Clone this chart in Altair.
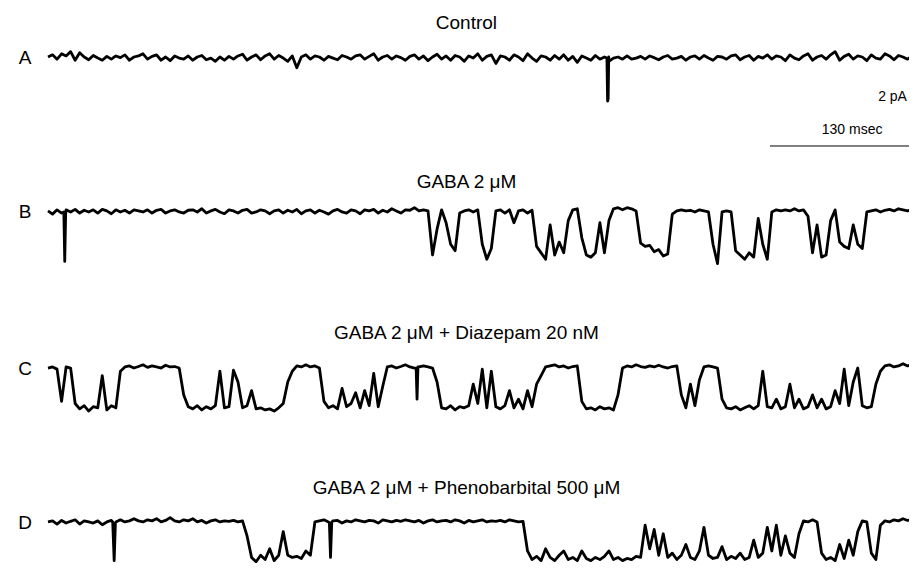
import altair as alt
import pandas as pd

# ---------------- data ----------------
SAMPLE_MS = 4.0

trace_names = ["A", "B", "C", "D"]
panel_titles = ["Control", "GABA 2 μM", "GABA 2 μM + Diazepam 20 nM",
                "GABA 2 μM + Phenobarbital 500 μM"]

# current (pA), one value every 4 ms; openings are downward
trace_A = [
    0.05, 0.15, -0.05, 0.2, 0.1, 0.3, -0.1, 0.25, 0.05, -0.08,
    0.12, 0.0, -0.1, 0.08, -0.05, 0.1, 0.02, 0.15, -0.1, 0.05,
    0.1, 0.2, -0.05, 0.08, 0.15, -0.1, 0.05, -0.12, 0.1, 0.0,
    -0.05, 0.1, -0.1, 0.05, 0.12, -0.08, 0.0, -0.15, 0.05, -0.1,
    0.08, -0.05, 0.1, 0.18, -0.1, 0.05, 0.15, -0.08, 0.1, 0.2,
    -0.05, 0.12, 0.0, -0.15, 0.1, -0.45, 0.05, 0.15, -0.05, 0.1,
    0.05, -0.1, 0.08, 0.0, -0.08, 0.12, 0.05, -0.05, 0.1, 0.15,
    -0.05, 0.08, 0.2, -0.1, 0.05, 0.12, -0.05, 0.1, 0.02, -0.1,
    0.08, 0.15, -0.05, 0.1, -0.12, 0.05, 0.18, -0.05, 0.1, -0.1,
    0.12, 0.05, -0.15, 0.1, 0.0, 0.2, -0.1, 0.08, 0.15, -0.25,
    0.1, 0.05, -0.1, 0.15, 0.05, -0.12, 0.2, 0.0, -0.15, 0.1,
    0.05, -0.1, 0.12, -0.05, 0.15, -0.1, 0.08, -0.2, 0.1, 0.0,
    -0.1, 0.12, -0.05, 0.05, -0.15, 0.0, 0.05, -0.05, 0.1, -0.05,
    0.0, 0.08, -0.05, 0.1, 0.02, -0.08, 0.05, 0.12, -0.05, 0.0,
    0.08, -0.1, 0.05, 0.1, -0.05, 0.12, 0.0, -0.1, 0.08, 0.05,
    -0.05, 0.1, 0.15, -0.08, 0.05, 0.12, -0.1, 0.08, 0.0, 0.15,
    -0.05, 0.1, 0.05, -0.12, 0.15, 0.0, -0.08, 0.1, 0.2, -0.1,
    0.05, 0.12, -0.05, 0.15, 0.3, -0.1, 0.08, 0.18, -0.05, 0.1,
    0.05, -0.12, 0.15, 0.0, -0.05, 0.2, 0.1, -0.08, 0.12, 0.05,
    -0.05, 0.1, 0.05, 0.0,
]
trace_B = [
    0.05, -0.1, 0.1, -0.05, 0.1, 0.0, 0.12, -0.05, 0.08, 0.0,
    0.1, -0.05, 0.12, 0.05, -0.08, 0.1, 0.0, 0.08, -0.05, 0.1,
    0.05, 0.0, 0.1, -0.05, 0.08, 0.12, -0.05, 0.05, 0.1, 0.0,
    -0.05, 0.08, 0.1, 0.0, 0.15, -0.05, 0.05, 0.12, 0.0, -0.08,
    0.1, 0.05, -0.05, 0.08, 0.12, -0.05, 0.0, 0.1, 0.05, -0.08,
    0.05, 0.1, -0.05, 0.08, 0.0, 0.12, -0.08, 0.05, 0.1, -0.05,
    0.08, 0.0, -0.1, 0.05, 0.12, 0.0, -0.05, 0.1, 0.05, -0.08,
    0.1, 0.05, 0.12, -0.05, 0.08, 0.0, 0.15, 0.05, -0.05, 0.1,
    0.08, 0.2, 0.05, 0.1, 0.05, -2.0, -0.8, 0.1, -0.5, -1.5,
    -1.8, -0.05, 0.05, 0.1, 0.0, 0.1, -1.5, -2.2, -1.7, 0.05,
    0.1, -0.05, 0.1, -0.5, 0.05, 0.1, -0.05, 0.08, -1.6, -1.9,
    -2.2, -0.6, -2.0, -1.4, -1.9, -0.4, 0.1, 0.15, -1.2, -2.0,
    -2.1, -1.9, -0.5, -1.9, -0.4, 0.15, 0.2, 0.1, 0.2, 0.15,
    0.05, -1.45, -1.6, -1.55, -1.85, -1.75, -2.05, -1.95, -0.1, 0.05,
    0.1, 0.05, 0.08, 0.0, 0.1, 0.05, 0.0, -1.5, -2.4, 0.0,
    0.05, 0.0, -1.8, -2.0, -2.2, -1.9, -2.1, -0.3, -1.5, -2.2,
    0.0, 0.1, 0.05, 0.1, 0.05, 0.15, 0.05, 0.1, -0.2, -1.9,
    -0.6, -2.1, -2.0, -0.4, 0.1, -1.4, -1.6, -1.7, -0.6, -1.5,
    -1.7, 0.0, 0.05, 0.1, 0.0, 0.08, 0.12, 0.05, 0.15, 0.1,
    0.05, 0.12, 0.18, 0.1,
]
trace_C = [
    0.05, 0.1, 0.0, -1.5, 0.1, 0.05, -1.6, -1.85, -1.7, -1.95,
    -1.75, -1.8, -0.3, -1.9, -1.7, -1.8, -0.1, 0.1, 0.15, 0.05,
    0.12, 0.2, 0.08, 0.15, 0.1, 0.05, 0.18, 0.1, 0.12, 0.05,
    -1.2, -1.75, -1.85, -1.7, -1.9, -1.75, -1.85, -1.7, -0.1, -1.8,
    -1.75, -0.05, -0.6, -1.8, -1.7, -1.0, -1.85, -1.8, -1.9, -1.85,
    -1.95, -1.8, -1.6, -0.6, -0.1, 0.15, 0.1, 0.2, 0.1, 0.15,
    0.05, -1.5, -1.8, -1.7, -1.85, -0.9, -1.75, -1.6, -1.1, -1.8,
    -1.0, -1.7, -0.2, -1.75, -0.8, 0.1, 0.15, 0.05, 0.12, 0.2,
    0.1, 0.05, 0.1, 0.15, 0.1, 0.05, -0.6, -1.8, -1.85, -1.7,
    -1.9, -1.75, -1.8, -1.7, -0.7, -1.6, 0.0, -1.8, -0.1, -1.75,
    -1.85, -1.7, -1.0, -1.8, -1.4, -1.85, -1.0, -1.75, -0.7, -0.3,
    0.1, 0.15, 0.2, 0.1, 0.15, 0.05, 0.12, 0.15, -1.5, -1.85,
    -1.8, -1.9, -1.75, -1.85, -1.8, -1.9, -1.2, 0.05, 0.15, 0.1,
    0.2, 0.12, 0.08, 0.15, 0.1, 0.18, 0.1, 0.05, 0.12, 0.15,
    -1.2, -1.8, -0.7, -1.7, -0.5, 0.1, 0.15, 0.1, 0.05, -1.4,
    -1.8, -1.85, -1.75, -1.9, -1.8, -1.7, -1.85, -1.7, -0.1, -1.75,
    -1.8, -1.4, -1.85, -1.75, -0.7, -1.8, -1.4, -1.85, -1.75, -1.2,
    -1.8, -1.4, -1.85, -1.75, -1.0, -1.6, 0.0, -1.7, -0.6, 0.05,
    -1.7, -1.8, -1.75, -0.7, -0.1, 0.15, 0.2, 0.1, 0.15, 0.25,
    0.15, 0.2, 0.25, 0.2,
]
trace_D = [
    0.05, 0.1, -0.05, 0.12, 0.0, 0.08, 0.15, -0.05, 0.1, 0.05,
    0.0, 0.1, -0.08, 0.05, 0.12, 0.05, 0.15, 0.05, 0.1, 0.2,
    0.1, 0.05, 0.15, 0.1, 0.2, 0.05, 0.12, 0.25, 0.1, 0.05,
    0.15, 0.1, 0.2, 0.05, 0.12, 0.0, 0.1, 0.15, 0.05, 0.1,
    0.08, 0.12, 0.05, 0.1, -0.6, -1.6, -1.8, -1.5, -1.7, -1.2,
    -1.75, -1.5, -0.4, -1.5, -1.6, -1.55, -1.65, -1.3, -1.5, 0.05,
    0.1, 0.15, 0.05, 0.1, 0.12, 0.0, 0.1, 0.05, 0.15, 0.1,
    0.05, 0.12, 0.1, 0.0, 0.15, 0.1, 0.05, 0.12, 0.08, 0.15,
    0.1, 0.05, 0.12, 0.0, 0.1, 0.15, 0.05, 0.1, 0.12, 0.05,
    0.15, 0.1, 0.0, 0.12, 0.05, 0.1, 0.15, 0.05, 0.1, 0.08,
    0.12, 0.05, 0.15, 0.1, 0.05, 0.08, -1.3, -1.7, -1.55, -1.75,
    -1.2, -1.6, -1.75, -1.5, -1.3, -1.7, -1.6, -1.75, -1.3, -1.65,
    -1.75, -1.6, -1.7, -1.55, -1.3, -1.7, -1.6, -1.75, -1.65, -1.7,
    -1.55, -1.6, -0.1, -1.2, -0.3, -1.5, -0.5, -1.6, -1.4, -1.7,
    -1.5, -1.0, -1.6, -1.7, -1.3, -0.2, -1.5, -1.65, -1.6, -1.1,
    -1.7, -1.55, -1.65, -1.4, -1.7, -1.6, -0.8, -1.6, -1.4, -0.2,
    -1.3, -0.1, -1.5, -0.6, -1.4, -1.6, -0.5, 0.1, 0.05, 0.15,
    0.05, -1.4, -1.7, -1.6, -1.75, -1.0, -1.65, -0.8, -1.5, -0.4,
    0.1, 0.05, -1.4, -1.7, -0.1, 0.1, 0.05, 0.15, 0.1, 0.2,
    0.12, 0.15, 0.2, 0.15,
]

# brief events finer than the 4 ms sampling (time ms, current pA)
brief_t_A = [494.2, 494.8, 495.3, 495.8]
brief_i_A = [0.0, -2.0, -1.9, 0.05]
brief_t_B = [14.0, 14.8, 15.6]
brief_i_B = [0.0, -2.3, -0.1]
brief_t_C = [325.5, 326.3, 327.1]
brief_i_C = [0.05, -1.4, 0.1]
brief_t_D = [57.2, 58.5, 59.6, 248.8, 249.8, 250.9]
brief_i_D = [0.05, -1.75, 0.0, 0.0, -1.6, 0.05]

# calibration bars
bar_time_ms = 130
bar_current_pA = 2

# ---------------- layout ----------------
trace_offset = {"A": 0.0, "B": -7.16, "C": -14.47, "D": -21.63}   # display offset (pA units)
title_lift = {"A": 1.63, "B": 1.4, "C": 1.66, "D": 1.63}
X_DOMAIN = [-35.37, 761.3]
Y_DOMAIN = [-23.49, 2.33]

samples = {"A": trace_A, "B": trace_B, "C": trace_C, "D": trace_D}
briefs = {"A": (brief_t_A, brief_i_A), "B": (brief_t_B, brief_i_B),
          "C": (brief_t_C, brief_i_C), "D": (brief_t_D, brief_i_D)}

rows = []
for name in trace_names:
    for k, v in enumerate(samples[name]):
        rows.append({"trace": name, "t": k * SAMPLE_MS, "i": v})
    for t, v in zip(*briefs[name]):
        rows.append({"trace": name, "t": t, "i": v})
df = pd.DataFrame(rows).sort_values(["trace", "t"]).reset_index(drop=True)
df["y"] = df["i"] + df["trace"].map(trace_offset)

xs = alt.Scale(domain=X_DOMAIN, nice=False, zero=False)
ys = alt.Scale(domain=Y_DOMAIN, nice=False, zero=False)

FONT = "Liberation Sans"

lines = alt.Chart(df).mark_line(color="black", strokeWidth=2.8, clip=True,
                                strokeJoin="round").encode(
    x=alt.X("t:Q", scale=xs, axis=None),
    y=alt.Y("y:Q", scale=ys, axis=None),
    detail="trace:N",
    order="t:Q",
)

titles_df = pd.DataFrame({
    "title": panel_titles,
    "t": [370.0] * 4,
    "y": [trace_offset[n] + title_lift[n] for n in trace_names],
})
titles = alt.Chart(titles_df).mark_text(font=FONT, fontSize=19, color="black",
                                        align="center", baseline="middle").encode(
    x=alt.X("t:Q", scale=xs), y=alt.Y("y:Q", scale=ys), text="title:N")

labels_df = pd.DataFrame({
    "label": trace_names,
    "t": [-20.3] * 4,
    "y": [trace_offset[n] for n in trace_names],
})
labels = alt.Chart(labels_df).mark_text(font=FONT, fontSize=19, color="black",
                                        align="center", baseline="middle").encode(
    x=alt.X("t:Q", scale=xs), y=alt.Y("y:Q", scale=ys), text="label:N")

bar_df = pd.DataFrame({"t0": [638.4], "t1": [638.4 + bar_time_ms], "y": [-4.09]})
bar = alt.Chart(bar_df).mark_rule(color="black", strokeWidth=1, clip=True).encode(
    x=alt.X("t0:Q", scale=xs), x2="t1:Q", y=alt.Y("y:Q", scale=ys))

cal_df = pd.DataFrame({
    "text": [f"{bar_current_pA} pA", f"{bar_time_ms} msec"],
    "t": [759.5, 711.0],
    "y": [-1.81, -3.35],
})
cal_pa = alt.Chart(cal_df.iloc[[0]]).mark_text(font=FONT, fontSize=14, color="black",
                                               align="right", baseline="middle").encode(
    x=alt.X("t:Q", scale=xs), y=alt.Y("y:Q", scale=ys), text="text:N")
cal_ms = alt.Chart(cal_df.iloc[[1]]).mark_text(font=FONT, fontSize=14, color="black",
                                               align="center", baseline="middle").encode(
    x=alt.X("t:Q", scale=xs), y=alt.Y("y:Q", scale=ys), text="text:N")

chart = alt.layer(lines, titles, labels, bar, cal_pa, cal_ms).properties(
    width=901, height=555, padding=0,
    autosize=alt.AutoSizeParams(type="none"),
    background="white",
).configure_view(stroke=None)

chart.save("out.html", embed_options={"renderer": "svg", "actions": False})
